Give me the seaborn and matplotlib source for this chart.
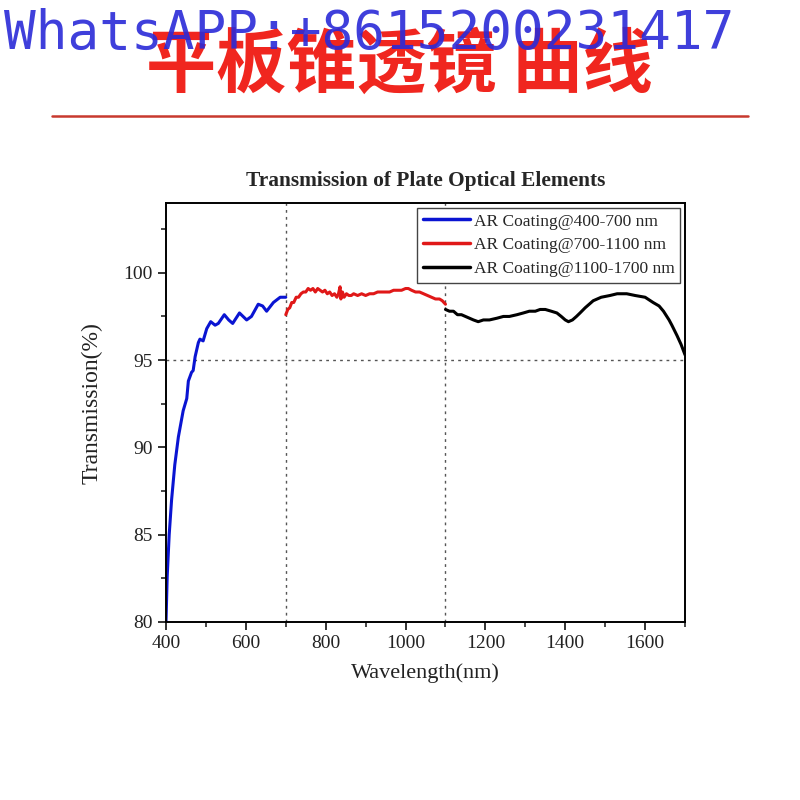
import numpy as np
import pandas as pd
import matplotlib
matplotlib.use("Agg")
import matplotlib.pyplot as plt
import seaborn as sns
from matplotlib.ticker import MultipleLocator
from matplotlib.lines import Line2D

# ---------------- data ----------------
blue_wl = [400, 403, 408, 414, 422, 431, 443, 452, 456, 464, 468, 473, 481, 485, 493,
           502, 512, 523, 531, 546, 557, 567, 584, 602, 614, 631, 642, 652, 669, 686, 700]
blue_t = [80.0, 82.6, 85.0, 87.0, 89.0, 90.6, 92.1, 92.8, 93.8, 94.3, 94.4, 95.2, 96.0, 96.2, 96.1,
          96.8, 97.2, 97.0, 97.1, 97.6, 97.3, 97.1, 97.7, 97.3, 97.5, 98.2, 98.1, 97.8, 98.3, 98.6, 98.6]

red_wl = [700, 705, 710, 715, 720, 726, 732, 738, 744, 750, 756, 762, 768, 774, 780, 786, 792,
          798, 804, 810, 816, 822, 828, 832, 836, 838, 842, 846, 852, 858, 864, 870, 880, 890,
          900, 910, 920, 930, 940, 950, 960, 970, 980, 990, 1000, 1007, 1015, 1025, 1035, 1045,
          1055, 1065, 1075, 1085, 1092, 1100]
red_t = [97.6, 97.9, 98.0, 98.3, 98.3, 98.6, 98.6, 98.8, 98.9, 98.9, 99.1, 99.0, 99.1, 98.9, 99.1,
         99.0, 98.9, 99.0, 98.8, 98.9, 98.7, 98.8, 98.6, 98.8, 99.2, 98.5, 98.9, 98.6, 98.8, 98.7,
         98.7, 98.8, 98.7, 98.8, 98.7, 98.8, 98.8, 98.9, 98.9, 98.9, 98.9, 99.0, 99.0, 99.0, 99.1,
         99.1, 99.0, 98.9, 98.9, 98.8, 98.7, 98.6, 98.5, 98.5, 98.4, 98.2]

black_wl = [1100, 1110, 1120, 1130, 1140, 1150, 1160, 1170, 1182, 1195, 1210, 1229, 1245, 1260,
            1279, 1295, 1310, 1325, 1337, 1350, 1365, 1379, 1390, 1400, 1408, 1418, 1428, 1437,
            1450, 1470, 1490, 1512, 1530, 1554, 1575, 1600, 1620, 1635, 1646, 1660, 1667, 1680,
            1690, 1700]
black_t = [97.9, 97.8, 97.8, 97.6, 97.6, 97.5, 97.4, 97.3, 97.2, 97.3, 97.3, 97.4, 97.5, 97.5,
           97.6, 97.7, 97.8, 97.8, 97.9, 97.9, 97.8, 97.7, 97.5, 97.3, 97.2, 97.3, 97.5, 97.7,
           98.0, 98.4, 98.6, 98.7, 98.8, 98.8, 98.7, 98.6, 98.3, 98.1, 97.8, 97.3, 97.0, 96.4,
           95.9, 95.3]

series_names = ["AR Coating@400-700 nm", "AR Coating@700-1100 nm", "AR Coating@1100-1700 nm"]
series_colors = ["#0a14d2", "#e01818", "#000000"]
x_ticks = [400, 600, 800, 1000, 1200, 1400, 1600]
y_ticks = [80, 85, 90, 95, 100]
title_text = "Transmission of Plate Optical Elements"
x_label = "Wavelength(nm)"
y_label = "Transmission(%)"
header_text = "平板锥透镜 曲线"
watermark_text = "WhatsAPP:+8615200231417"

df = pd.concat([
    pd.DataFrame({"wl": blue_wl, "t": blue_t, "series": series_names[0]}),
    pd.DataFrame({"wl": red_wl, "t": red_t, "series": series_names[1]}),
    pd.DataFrame({"wl": black_wl, "t": black_t, "series": series_names[2]}),
], ignore_index=True)

# ---------------- style ----------------
sns.set_style("ticks")
plt.rcParams["font.family"] = ["Liberation Serif", "DejaVu Serif"]

fig = plt.figure(figsize=(8, 8), dpi=100)
ax = fig.add_axes([0.2075, 0.2225, 0.6488, 0.5238])

sns.lineplot(data=df, x="wl", y="t", hue="series", hue_order=series_names,
             palette=series_colors, linewidth=2.2, ax=ax, legend=False, sort=False,
             estimator=None)

ax.set_xlim(400, 1700)
ax.set_ylim(80, 104)
ax.set_xticks(x_ticks)
ax.set_yticks(y_ticks)
ax.xaxis.set_minor_locator(MultipleLocator(100))
ax.yaxis.set_minor_locator(MultipleLocator(2.5))
ax.tick_params(axis="both", which="major", direction="out", length=6, width=1.3,
               labelsize=14, colors="#222222", top=False, right=False)
ax.tick_params(axis="both", which="minor", direction="out", length=3.5, width=1.2,
               top=False, right=False)
for s in ax.spines.values():
    s.set_visible(True)
    s.set_linewidth(1.4)
    s.set_color("black")

# reference grid lines
ax.axvline(700, color="#555555", linestyle=(0, (2, 3)), linewidth=1.0, zorder=0)
ax.axvline(1100, color="#555555", linestyle=(0, (2, 3)), linewidth=1.0, zorder=0)
ax.axhline(95, color="#555555", linestyle=(0, (2, 3)), linewidth=1.0, zorder=0)

ax.set_xlabel(x_label, fontsize=16, labelpad=8, color="#222222")
ax.set_ylabel(y_label, fontsize=17, color="#222222")
ax.yaxis.set_label_coords(-0.122, 0.523)
ax.set_title(title_text, fontsize=15.4, fontweight="bold", pad=12)

handles = [Line2D([], [], color=c, linewidth=2.5) for c in series_colors]
leg = ax.legend(handles, series_names, loc="upper right", fontsize=12.5,
                frameon=True, fancybox=False, edgecolor="#444444", framealpha=1,
                borderaxespad=0.3, handlelength=2.7, handletextpad=0.25,
                labelspacing=0.45, borderpad=0.3)
leg.get_frame().set_linewidth(1.0)

# header
fig.text(0.499, 1 - 66 / 800, header_text, ha="center", va="center", fontsize=50.5,
         fontweight="black", color="#f0261f",
         family=["Noto Sans CJK SC", "DejaVu Sans"])
fig.add_artist(Line2D([52 / 800, 748 / 800], [1 - 116 / 800, 1 - 116 / 800],
                      color="#c8392e", linewidth=1.8, transform=fig.transFigure))
fig.text(0.462, 1 - 34 / 800, watermark_text, ha="center", va="center", fontsize=38,
         color="#2a2ad8", alpha=0.9, family=["DejaVu Sans Mono"])

fig.savefig("out.png", dpi=100, facecolor="white")
